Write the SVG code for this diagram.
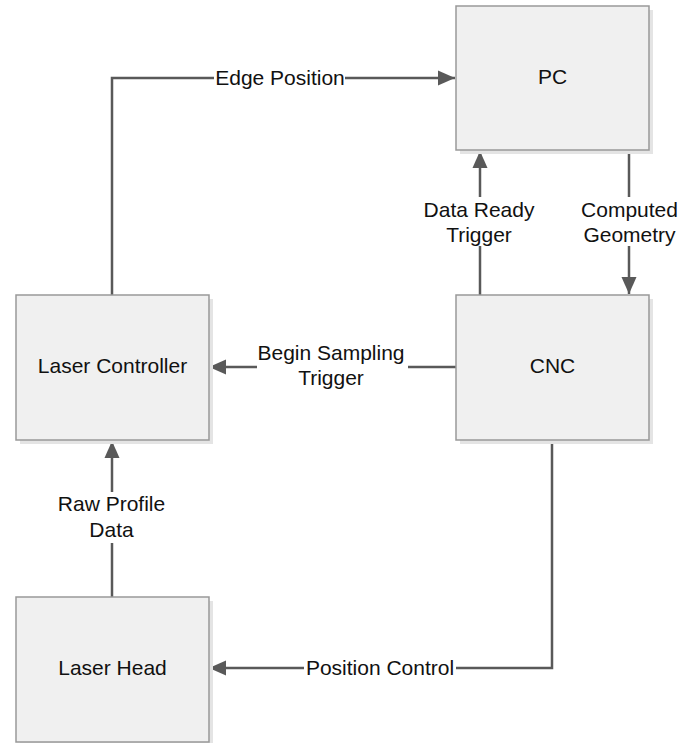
<svg xmlns="http://www.w3.org/2000/svg" width="693" height="743" viewBox="0 0 693 743">
  <style>
    .shadow { fill: #e4e4e4; }
    .box { fill: #f0f0f0; stroke: #999999; stroke-width: 1.5; }
    .lbl { font-family: "Liberation Sans", Arial, sans-serif; font-size: 21px; fill: #111111; text-anchor: middle; }
    .wire { fill: none; stroke: #595959; stroke-width: 2.5; }
    .bg { fill: #ffffff; }
  </style>
  <defs>
    <marker id="arrow" markerUnits="userSpaceOnUse" markerWidth="18" markerHeight="16" refX="17" refY="8" orient="auto">
      <path d="M0,0.5 L17,8 L0,15.5 Z" fill="#595959"/>
    </marker>
  </defs>
  <rect width="693" height="743" fill="#ffffff"/>

  <!-- connectors -->
  <g id="connectors">
    <path class="wire" d="M112,295 V78 H455" marker-end="url(#arrow)"/>
    <rect class="bg" x="214" y="66" width="131" height="24"/>
    <text class="lbl" x="280" y="85">Edge Position</text>

    <path class="wire" d="M480,295 V151" marker-end="url(#arrow)"/>
    <rect class="bg" x="420" y="197" width="120" height="49"/>
    <text class="lbl" x="479" y="217">Data Ready</text>
    <text class="lbl" x="479" y="242">Trigger</text>

    <path class="wire" d="M629,150 V294" marker-end="url(#arrow)"/>
    <rect class="bg" x="578" y="197" width="103" height="49"/>
    <text class="lbl" x="629.5" y="217">Computed</text>
    <text class="lbl" x="629.5" y="242">Geometry</text>

    <path class="wire" d="M456,367 H209" marker-end="url(#arrow)"/>
    <rect class="bg" x="257" y="340" width="151" height="50"/>
    <text class="lbl" x="331" y="360">Begin Sampling</text>
    <text class="lbl" x="331" y="385">Trigger</text>

    <path class="wire" d="M112,597 V441" marker-end="url(#arrow)"/>
    <rect class="bg" x="52" y="492" width="120" height="51"/>
    <text class="lbl" x="111.5" y="511">Raw Profile</text>
    <text class="lbl" x="111.5" y="537">Data</text>

    <path class="wire" d="M552,440 V668 H209" marker-end="url(#arrow)"/>
    <rect class="bg" x="304" y="656" width="152" height="24"/>
    <text class="lbl" x="380" y="675">Position Control</text>
  </g>

  <!-- nodes -->
  <g id="pc">
    <rect class="shadow" x="460" y="10" width="193" height="144"/>
    <rect class="box" x="456" y="6" width="193" height="144"/>
    <text class="lbl" x="552.5" y="84">PC</text>
  </g>
  <g id="laser-controller">
    <rect class="shadow" x="20" y="299" width="193" height="145"/>
    <rect class="box" x="16" y="295" width="193" height="145"/>
    <text class="lbl" x="112.5" y="373">Laser Controller</text>
  </g>
  <g id="cnc">
    <rect class="shadow" x="460" y="299" width="193" height="145"/>
    <rect class="box" x="456" y="295" width="193" height="145"/>
    <text class="lbl" x="552.5" y="373">CNC</text>
  </g>
  <g id="laser-head">
    <rect class="shadow" x="20" y="601" width="193" height="145"/>
    <rect class="box" x="16" y="597" width="193" height="145"/>
    <text class="lbl" x="112.5" y="675">Laser Head</text>
  </g>
</svg>
